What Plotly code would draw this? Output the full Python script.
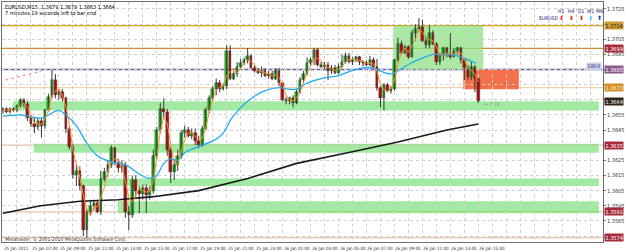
import plotly.graph_objects as go
import pandas as pd

# ---------------- data (EURUSD M15, 25 Jan 05:00 -> 26 Jan 15:00) ----------------
opens = [1.3658,1.3659,1.3657,1.3659,1.3658,1.3661,1.3665,1.3662,1.3653,1.3649,
         1.3647,1.3651,1.3648,1.3658,1.3667,1.3678,1.3668,1.3670,1.3666,1.3646,
         1.3634,1.3615,1.3618,1.3608,1.3579,1.3591,1.3595,1.3597,1.3591,1.3613,
         1.3617,1.3622,1.3633,1.3623,1.3620,1.3622,1.3591,1.3589,1.3612,1.3605,
         1.3603,1.3607,1.3602,1.3605,1.3628,1.3645,1.3659,1.3657,1.3632,1.3617,
         1.3622,1.3628,1.3643,1.3645,1.3641,1.3643,1.3638,1.3635,1.3646,1.3658,
         1.3666,1.3672,1.3676,1.3672,1.3674,1.3697,1.3679,1.3682,1.3687,1.3689,
         1.3691,1.3694,1.3686,1.3684,1.3683,1.3684,1.3681,1.3682,1.3679,1.3684,
         1.3676,1.3665,1.3664,1.3666,1.3663,1.3670,1.3678,1.3682,1.3689,1.3691,
         1.3698,1.3688,1.3687,1.3688,1.3684,1.3686,1.3683,1.3687,1.3690,1.3694,
         1.3690,1.3691,1.3693,1.3690,1.3689,1.3688,1.3691,1.3687,1.3673,1.3666,
         1.3675,1.3671,1.3672,1.3691,1.3702,1.3696,1.3700,1.3693,1.3709,1.3712,
         1.3713,1.3704,1.3701,1.3709,1.3702,1.3690,1.3694,1.3699,1.3695,1.3693,
         1.3697,1.3699,1.3691,1.3686,1.3680,1.3687,1.3679]
highs = [1.3660,1.3660,1.3660,1.3660,1.3662,1.3666,1.3666,1.3664,1.3655,1.3653,
         1.3653,1.3653,1.3659,1.3669,1.3685,1.3682,1.3672,1.3672,1.3667,1.3648,
         1.3636,1.3622,1.3621,1.3609,1.3593,1.3599,1.3599,1.3599,1.3618,1.3620,
         1.3625,1.3635,1.3634,1.3626,1.3625,1.3624,1.3595,1.3615,1.3615,1.3608,
         1.3609,1.3609,1.3608,1.3632,1.3647,1.3663,1.3666,1.3659,1.3634,1.3625,
         1.3632,1.3645,1.3648,1.3647,1.3646,1.3646,1.3641,1.3648,1.3660,1.3668,
         1.3674,1.3679,1.3678,1.3676,1.3701,1.3701,1.3684,1.3690,1.3692,1.3693,
         1.3699,1.3695,1.3688,1.3686,1.3687,1.3686,1.3684,1.3684,1.3686,1.3686,
         1.3676,1.3667,1.3667,1.3668,1.3672,1.3680,1.3684,1.3693,1.3693,1.3699,
         1.3699,1.3690,1.3690,1.3690,1.3688,1.3688,1.3689,1.3695,1.3696,1.3696,
         1.3693,1.3694,1.3694,1.3691,1.3691,1.3694,1.3693,1.3692,1.3674,1.3676,
         1.3676,1.3674,1.3692,1.3706,1.3704,1.3701,1.3701,1.3711,1.3715,1.3719,
         1.3718,1.3707,1.3714,1.3711,1.3703,1.3696,1.3700,1.3700,1.3709,1.3699,
         1.3700,1.3700,1.3692,1.3688,1.3690,1.3688,1.3679]
lows = [1.3656,1.3656,1.3656,1.3657,1.3657,1.3660,1.3660,1.3651,1.3647,1.3643,
        1.3645,1.3640,1.3646,1.3657,1.3666,1.3666,1.3665,1.3664,1.3643,1.3632,
        1.3613,1.3608,1.3605,1.3575,1.3574,1.3589,1.3592,1.3590,1.3589,1.3611,
        1.3614,1.3620,1.3622,1.3617,1.3617,1.3587,1.3579,1.3587,1.3601,1.3590,
        1.3599,1.3590,1.3599,1.3603,1.3626,1.3643,1.3653,1.3628,1.3610,1.3612,
        1.3618,1.3626,1.3640,1.3640,1.3639,1.3635,1.3633,1.3634,1.3645,1.3656,
        1.3664,1.3668,1.3670,1.3671,1.3672,1.3678,1.3678,1.3680,1.3686,1.3688,
        1.3689,1.3686,1.3683,1.3682,1.3680,1.3680,1.3679,1.3678,1.3678,1.3674,
        1.3664,1.3662,1.3662,1.3660,1.3662,1.3669,1.3676,1.3681,1.3687,1.3688,
        1.3687,1.3686,1.3685,1.3678,1.3682,1.3682,1.3682,1.3686,1.3689,1.3689,
        1.3688,1.3690,1.3688,1.3687,1.3687,1.3687,1.3686,1.3671,1.3660,1.3658,
        1.3670,1.3669,1.3671,1.3690,1.3695,1.3695,1.3692,1.3693,1.3704,1.3710,
        1.3703,1.3699,1.3699,1.3701,1.3688,1.3688,1.3691,1.3693,1.3692,1.3693,
        1.3695,1.3689,1.3678,1.3678,1.3678,1.3670,1.3663]
closes = [1.3659,1.3657,1.3659,1.3658,1.3661,1.3665,1.3662,1.3653,1.3649,1.3647,
          1.3651,1.3648,1.3658,1.3667,1.3678,1.3668,1.3670,1.3666,1.3646,1.3634,
          1.3615,1.3618,1.3608,1.3579,1.3591,1.3595,1.3597,1.3591,1.3613,1.3617,
          1.3622,1.3633,1.3623,1.3620,1.3622,1.3591,1.3589,1.3612,1.3605,1.3603,
          1.3607,1.3602,1.3605,1.3628,1.3645,1.3659,1.3657,1.3632,1.3617,1.3622,
          1.3628,1.3643,1.3645,1.3641,1.3643,1.3638,1.3635,1.3646,1.3658,1.3666,
          1.3672,1.3676,1.3672,1.3674,1.3697,1.3679,1.3682,1.3687,1.3689,1.3691,
          1.3694,1.3686,1.3684,1.3683,1.3684,1.3681,1.3682,1.3679,1.3684,1.3676,
          1.3665,1.3664,1.3666,1.3663,1.3670,1.3678,1.3682,1.3689,1.3691,1.3698,
          1.3688,1.3687,1.3688,1.3684,1.3686,1.3683,1.3687,1.3690,1.3694,1.3690,
          1.3691,1.3693,1.3690,1.3689,1.3688,1.3691,1.3687,1.3673,1.3666,1.3675,
          1.3671,1.3672,1.3691,1.3702,1.3696,1.3700,1.3693,1.3709,1.3712,1.3713,
          1.3704,1.3701,1.3709,1.3702,1.3690,1.3694,1.3699,1.3695,1.3693,1.3697,
          1.3699,1.3691,1.3686,1.3680,1.3687,1.3679,1.3664]

# slow (blue) moving average, read at sampled bars
blue_bars = [0, 5, 11, 16, 18, 21, 23.5, 27, 31, 35, 39, 42, 44, 46, 48, 50, 52, 56, 61, 63,
             65.5, 70, 75, 79, 82, 84, 87, 91, 96, 99.5, 103, 106, 108, 111, 113, 116.5,
             120.5, 123, 126, 130, 132.5, 135.4]
blue_vals = [1.3654, 1.3655, 1.3653, 1.3658, 1.3655, 1.3648, 1.3638, 1.3628, 1.3624, 1.3622,
             1.3616, 1.3613, 1.3615, 1.3623, 1.3626, 1.3625, 1.3630, 1.3634, 1.3639, 1.3643,
             1.3653, 1.3664, 1.3671, 1.3673, 1.3672, 1.3672, 1.3676, 1.3679, 1.3681, 1.3684,
             1.3686, 1.3686, 1.3684, 1.3682, 1.3684, 1.3689, 1.3693, 1.3695, 1.3695, 1.3694,
             1.3692, 1.3689]
# long (black) moving average
black_bars = [0, 10.8, 22, 33, 43, 56, 70, 84, 98.6, 112.7, 127, 136]
black_vals = [1.3590, 1.3595, 1.3598, 1.3599, 1.3601, 1.3605, 1.3613, 1.3623, 1.3630,
              1.3637, 1.3645, 1.3649]
# dashed trend line fragment
trend_bars = [-1, 11]
trend_vals = [1.3677, 1.3684]

# horizontal levels
level_prices = [1.3714, 1.3699, 1.3685, 1.3673, 1.3635, 1.3591, 1.3574]
level_texts = ["1.3714", "1.3699", "1.3685", "1.3673", "1.3635", "1.3591", "1.3574"]
bid_price = 1.3664
# support zones: start bar, low, high
zone_start = [2.8, 8.8, 21.5, 32.9]
zone_low = [1.3658, 1.3630, 1.3608, 1.3590]
zone_high = [1.3664, 1.3636, 1.3613, 1.3598]
zone_end = 170.5
box_green = (111.6, 137.4, 1.3685, 1.3714)
box_orange = (131.7, 147.6, 1.3672, 1.3685)

price_ticks = [1.3575, 1.3585, 1.3595, 1.3605, 1.3615, 1.3625, 1.3635, 1.3645, 1.3655,
               1.3665, 1.3675, 1.3685, 1.3695, 1.3705, 1.3715, 1.3725]
# tick values whose text is hidden behind the coloured level labels
hidden_ticks = [1.3575, 1.3635, 1.3665, 1.3675, 1.3685, 1.3715]
time_label_bars = list(range(0, 137, 8))
time_labels = ["25 Jan 2011", "25 Jan 07:00", "25 Jan 09:00", "25 Jan 11:00", "25 Jan 13:00",
               "25 Jan 15:00", "25 Jan 17:00", "25 Jan 19:00", "25 Jan 21:00", "25 Jan 23:00",
               "26 Jan 01:00", "26 Jan 03:00", "26 Jan 05:00", "26 Jan 07:00", "26 Jan 09:00",
               "26 Jan 11:00", "26 Jan 13:00", "26 Jan 15:00"]

# ---------------- figure ----------------
W, H = 625, 252
ML, MR, MT, MB = 1, 17, 1, 10
FONT = "Liberation Sans Narrow, DejaVu Sans Condensed, Liberation Sans, Arial, sans-serif"
n = len(closes)
bars = list(range(n))

def px(xp, yp):
    """pixel -> paper coords (for overlay text placement)"""
    return (xp - ML) / (W - ML - MR), (H - MB - yp) / (H - MT - MB)

fig = go.Figure()

shapes = []
for s, lo, hi in zip(zone_start, zone_low, zone_high):
    shapes.append(dict(type="rect", xref="x", yref="y", x0=s, x1=zone_end, y0=lo, y1=hi,
                       fillcolor="rgba(110,225,110,0.65)", line=dict(width=0), layer="below"))
gx0, gx1, gy0, gy1 = box_green
shapes.append(dict(type="rect", xref="x", yref="y", x0=gx0, x1=gx1, y0=gy0, y1=gy1,
                   fillcolor="rgba(140,225,130,0.75)", line=dict(width=0), layer="below"))
level_colors = ["#d9a21b", "#d08a3a", "#6a5a9c", "#f3d2a6", "#e9c3a8", "#e9c3a8", "#f0c2aa"]
for p, c in zip(level_prices, level_colors):
    shapes.append(dict(type="line", xref="paper", yref="y", x0=0, x1=1, y0=p, y1=p,
                       line=dict(color=c, width=1.3), layer="below"))
ox0, ox1, oy0, oy1 = box_orange
shapes.append(dict(type="rect", xref="x", yref="y", x0=ox0, x1=ox1, y0=oy0, y1=oy1,
                   fillcolor="#f4714c", opacity=1, line=dict(width=0), layer="below"))

# wicks
wx, wy = [], []
for i in bars:
    wx += [i, i, None]
    wy += [lows[i], highs[i], None]
fig.add_trace(go.Scatter(x=wx, y=wy, mode="lines", line=dict(color="#383838", width=1),
                         hoverinfo="skip", showlegend=False))
# bodies
base = [min(o, c) for o, c in zip(opens, closes)]
hgt = [max(abs(c - o), 0.00003) for o, c in zip(opens, closes)]
cols = ["#10d010" if c >= o else "#f00000" for o, c in zip(opens, closes)]
fig.add_trace(go.Bar(x=bars, y=hgt, base=base, width=0.75, marker=dict(color=cols,
                     line=dict(color="#303030", width=0.4)), showlegend=False))

# indicators
fig.add_trace(go.Scatter(x=black_bars, y=black_vals, mode="lines", line=dict(color="#1a1a1a", width=1.6),
                         showlegend=False))
fig.add_trace(go.Scatter(x=blue_bars, y=blue_vals, mode="lines", line=dict(color="#22aaee", width=1.3, shape="spline"),
                         showlegend=False))
fast = pd.Series(closes).rolling(3, min_periods=1).mean()
fig.add_trace(go.Scatter(x=bars, y=fast, mode="lines", line=dict(color="#f7922e", width=1),
                         showlegend=False))
fig.add_trace(go.Scatter(x=trend_bars, y=trend_vals, mode="lines", line=dict(color="#f08080", width=1, dash="dot"),
                         showlegend=False))

ann = []
tf = dict(family=FONT, size=5.5, color="#303030")
lab_bg = ["#c99a3a", "#a62c3c", "#8a5a8e", "#d48f2e", "#a62c3c", "#a62c3c", "#a62c3c"]
lab_fg = ["#3a2400", "#ffffff", "#ffffff", "#fff3b0", "#ffffff", "#ffffff", "#ffffff"]
for p, t, b, f in zip(level_prices, level_texts, lab_bg, lab_fg):
    ann.append(dict(xref="paper", yref="y", x=1, y=p, xanchor="left", yanchor="middle", xshift=1,
                    text=t, showarrow=False, bgcolor=b, borderpad=0.5,
                    font=dict(family=FONT, size=5.5, color=f)))
ann.append(dict(xref="paper", yref="y", x=1, y=bid_price, xanchor="left", yanchor="middle", xshift=1,
                text=f"{bid_price:.4f}", showarrow=False, bgcolor="#2e2418", borderpad=0.5,
                font=dict(family=FONT, size=5.5, color="#ffffff")))
for b_, t in zip(time_label_bars, time_labels):
    ann.append(dict(xref="x", yref="paper", x=b_, y=0, xanchor="left", yanchor="top", yshift=-2, xshift=-1,
                    text=t, showarrow=False, font=dict(family=FONT, size=4.5, color="#303030")))
hx, hy = px(2, 1)
ann.append(dict(xref="paper", yref="paper", x=hx, y=hy, xanchor="left", yanchor="top",
                text="EURUSD,M15  1.3679 1.3679 1.3663 1.3664", showarrow=False,
                font=dict(family=FONT, size=5.5, color="#000000")))
hx, hy = px(2, 7)
ann.append(dict(xref="paper", yref="paper", x=hx, y=hy, xanchor="left", yanchor="top",
                text="7 minutes 19 seconds left to bar end", showarrow=False,
                font=dict(family=FONT, size=5.5, color="#000000")))
hx, hy = px(2, 239)
ann.append(dict(xref="paper", yref="paper", x=hx, y=hy, xanchor="left", yanchor="middle",
                text="Metatrader, © 2001-2010 MetaQuotes Software Corp.", showarrow=False,
                font=dict(family=FONT, size=5, color="#303030")))
for t, xp in zip(["H1", "H4", "D1", "W1", "MN"], [566, 576, 586, 595, 604]):
    ax_, ay_ = px(xp, 10)
    ann.append(dict(xref="paper", yref="paper", x=ax_, y=ay_, xanchor="center", yanchor="middle",
                    text=t, showarrow=False, font=dict(family=FONT, size=5, color="#202070")))
for t, c, xp in zip(["⬇", "⬇", "⬇", "⬇", "⬆"], ["#ee1111", "#ee1111", "#ee1111", "#44c8f0", "#1030d0"],
                    [566, 576, 586, 595, 604]):
    ax_, ay_ = px(xp, 17)
    ann.append(dict(xref="paper", yref="paper", x=ax_, y=ay_, xanchor="center", yanchor="middle",
                    text=t, showarrow=False, font=dict(family="DejaVu Sans", size=6, color=c)))
ax_, ay_ = px(553, 17)
ann.append(dict(xref="paper", yref="paper", x=ax_, y=ay_, xanchor="center", yanchor="middle",
                text="EURUSD", showarrow=False, font=dict(family=FONT, size=5, color="#202070")))
ax_, ay_ = px(607, 66)
ann.append(dict(xref="paper", yref="paper", x=ax_, y=ay_, xanchor="right", yanchor="middle",
                text="100.0", showarrow=False, bgcolor="#c9d2ea", borderpad=0.3,
                font=dict(family=FONT, size=5, color="#202070")))
ann.append(dict(xref="x", yref="y", x=137, y=1.3662, xanchor="left", yanchor="middle",
                text="← 7:19", showarrow=False, font=dict(family=FONT, size=5, color="#909090")))

fig.update_layout(
    width=W, height=H, margin=dict(l=ML, r=MR, t=MT, b=MB),
    paper_bgcolor="white", plot_bgcolor="white",
    shapes=shapes, annotations=ann, bargap=0, showlegend=False,
    xaxis=dict(range=[-0.28, 171.67], tickvals=list(range(0, 172, 4)), ticktext=[""] * 43,
               showgrid=True, gridcolor="#cfcfcf", griddash="dot", gridwidth=1,
               showline=True, linecolor="#707070", linewidth=1, mirror=True, zeroline=False,
               ticks="", fixedrange=True),
    yaxis=dict(range=[1.357105, 1.372961], side="right", tickvals=price_ticks,
               ticktext=["" if v in hidden_ticks else f"{v:.4f}" for v in price_ticks], tickfont=tf,
               showgrid=True, gridcolor="#cfcfcf", griddash="dot", gridwidth=1,
               showline=True, linecolor="#707070", linewidth=1, mirror=True, zeroline=False,
               ticks="outside", ticklen=2, tickcolor="#707070"),
)

fig.write_html("out.html")
